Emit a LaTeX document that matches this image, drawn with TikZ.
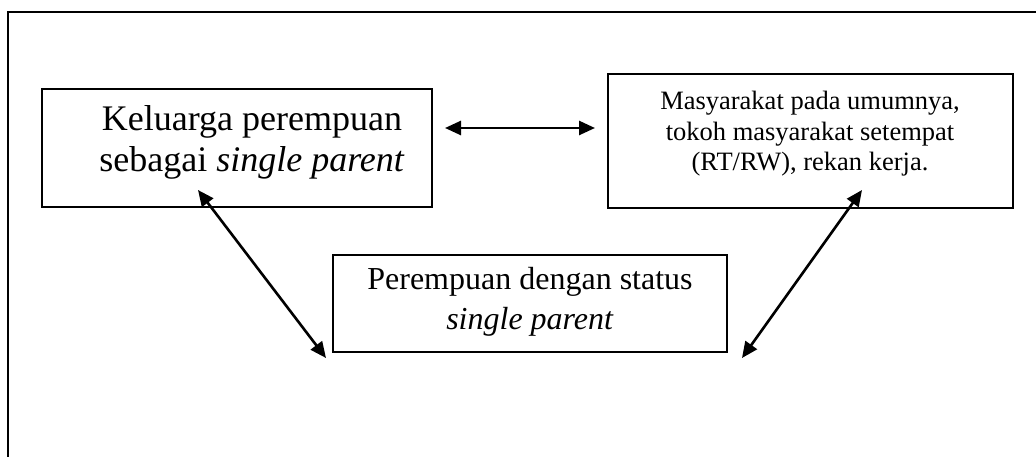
\documentclass[tikz,border=0pt]{standalone}
\usepackage{fontspec}
\setmainfont{Liberation Serif}
\usetikzlibrary{arrows.meta}
\tikzset{
  box/.style={draw, line width=2.6pt, inner sep=0pt},
  bigtext/.style={align=center, font=\fontsize{36}{41}\selectfont, inner sep=0pt},
  midtext/.style={align=center, font=\fontsize{32}{40}\selectfont, inner sep=0pt},
  smalltext/.style={align=center, font=\fontsize{26.5}{30.5}\selectfont, inner sep=0pt},
  link/.style={line width=2.6pt, {Triangle[length=16pt,width=14pt]}-{Triangle[length=16pt,width=14pt]}},
  frame/.style={line width=2.8pt}
}
\begin{document}
\begin{tikzpicture}[x=1pt, y=-1pt]
\useasboundingbox (0,0) rectangle (1036,457);
% outer frame (cut off right and bottom)
\draw[frame] (8,460) -- (8,12) -- (1040,12);
% boxes
\node[box, minimum width=390pt, minimum height=118pt] (boxL) at (237,148) {};
\node[box, minimum width=405pt, minimum height=134pt] (boxR) at (810.5,141) {};
\node[box, minimum width=394pt, minimum height=97pt] (boxC) at (530,303.5) {};
% texts
\node[bigtext] (tL) at (252,142) {Keluarga perempuan\\sebagai \textit{single parent}};
\node[smalltext] (tR) at (810,134) {Masyarakat pada umumnya,\\tokoh masyarakat setempat\\(RT/RW), rekan kerja.};
\node[midtext] (tC) at (530,302) {Perempuan dengan status\\\textit{single parent}};
% arrow ends
\coordinate (hA) at (445,128);
\coordinate (hB) at (595,128);
\coordinate (lA) at (198,190);
\coordinate (lB) at (326,358);
\coordinate (rA) at (862,190);
\coordinate (rB) at (742,358);
\draw[link] (hA) -- (hB);
\draw[link] (lA) -- (lB);
\draw[link] (rA) -- (rB);
\end{tikzpicture}
\end{document}
